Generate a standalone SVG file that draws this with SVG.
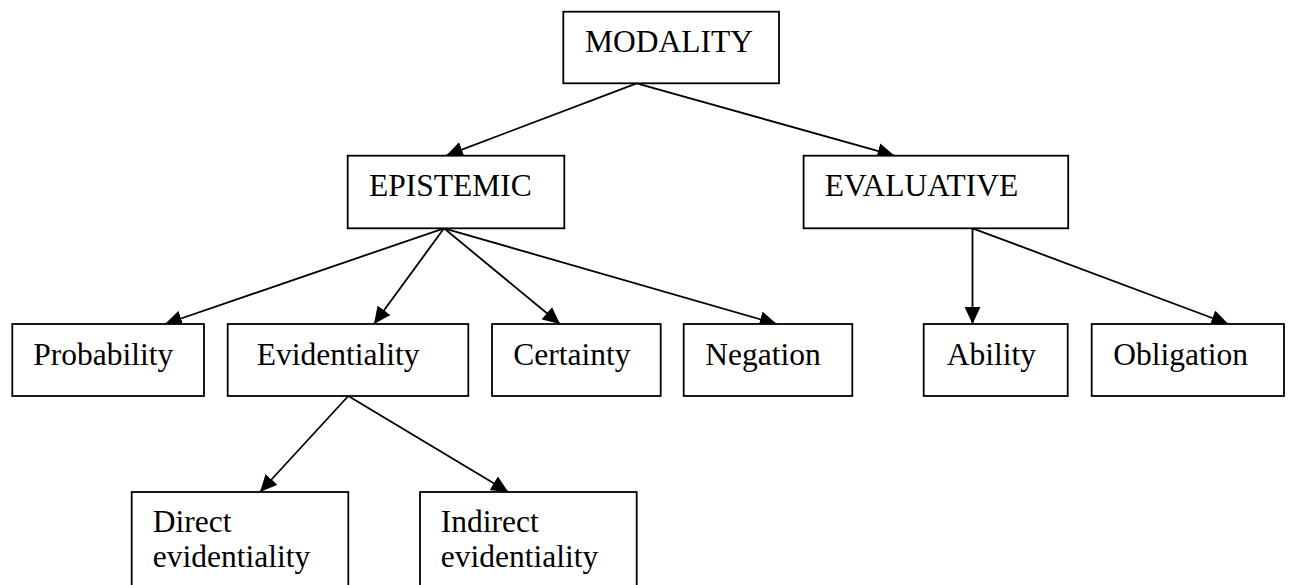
<svg xmlns="http://www.w3.org/2000/svg" width="1294" height="585" viewBox="0 0 1294 585">
  <style>
    .box { fill: #ffffff; stroke: #000000; stroke-width: 1.8; }
    .lbl { font-family: "Liberation Serif", "Times New Roman", serif; font-size: 31.5px; fill: #000000; }
    .edge { stroke: #000000; stroke-width: 1.8; fill: none; marker-end: url(#arrow); }
  </style>
  <defs>
    <marker id="arrow" markerUnits="userSpaceOnUse" markerWidth="18" markerHeight="16" refX="17" refY="8" orient="auto">
      <path d="M0,0 L17,8 L0,16 Z" fill="#000000"/>
    </marker>
  </defs>
  <rect width="1294" height="585" fill="#ffffff"/>

  <!-- parent-to-child arrows -->
  <g id="connectors">
    <line class="edge" x1="636.7" y1="83.3" x2="446" y2="155.7"/>
    <line class="edge" x1="636.7" y1="83.3" x2="894.5" y2="155.7"/>
    <line class="edge" x1="444" y1="228.3" x2="165" y2="324"/>
    <line class="edge" x1="444" y1="228.3" x2="374" y2="324"/>
    <line class="edge" x1="444" y1="228.3" x2="560" y2="324"/>
    <line class="edge" x1="444" y1="228.3" x2="776.7" y2="324"/>
    <line class="edge" x1="972.5" y1="228.3" x2="972.5" y2="324"/>
    <line class="edge" x1="972.5" y1="228.3" x2="1228.3" y2="324"/>
    <line class="edge" x1="348.3" y1="396" x2="260" y2="492"/>
    <line class="edge" x1="348.3" y1="396" x2="508.3" y2="492"/>
  </g>

  <g id="modality">
    <rect class="box" x="563.3" y="11.7" width="215.7" height="71.6"/>
    <text class="lbl" x="585" y="52.3">MODALITY</text>
  </g>
  <g id="epistemic">
    <rect class="box" x="347.7" y="155.7" width="216.6" height="72.6"/>
    <text class="lbl" x="369" y="196">EPISTEMIC</text>
  </g>
  <g id="evaluative">
    <rect class="box" x="803.6" y="155.7" width="264.6" height="72.6"/>
    <text class="lbl" x="824.7" y="196">EVALUATIVE</text>
  </g>
  <g id="probability">
    <rect class="box" x="12.3" y="324" width="191.7" height="72"/>
    <text class="lbl" x="33.3" y="365">Probability</text>
  </g>
  <g id="evidentiality">
    <rect class="box" x="227.7" y="324" width="240.6" height="72"/>
    <text class="lbl" x="256.7" y="365">Evidentiality</text>
  </g>
  <g id="certainty">
    <rect class="box" x="492" y="324" width="168.7" height="72"/>
    <text class="lbl" x="513.3" y="365">Certainty</text>
  </g>
  <g id="negation">
    <rect class="box" x="683.7" y="324" width="168.6" height="72"/>
    <text class="lbl" x="705.3" y="365">Negation</text>
  </g>
  <g id="ability">
    <rect class="box" x="923.7" y="324" width="144" height="72"/>
    <text class="lbl" x="946.7" y="365">Ability</text>
  </g>
  <g id="obligation">
    <rect class="box" x="1091.7" y="324" width="192.3" height="72"/>
    <text class="lbl" x="1113.3" y="365">Obligation</text>
  </g>
  <g id="direct-evidentiality">
    <rect class="box" x="131.7" y="492" width="216.6" height="110"/>
    <text class="lbl" x="152.7" y="532">Direct</text>
    <text class="lbl" x="152.7" y="566.7">evidentiality</text>
  </g>
  <g id="indirect-evidentiality">
    <rect class="box" x="420" y="492" width="216.7" height="110"/>
    <text class="lbl" x="440.7" y="532">Indirect</text>
    <text class="lbl" x="440.7" y="566.7">evidentiality</text>
  </g>
</svg>
